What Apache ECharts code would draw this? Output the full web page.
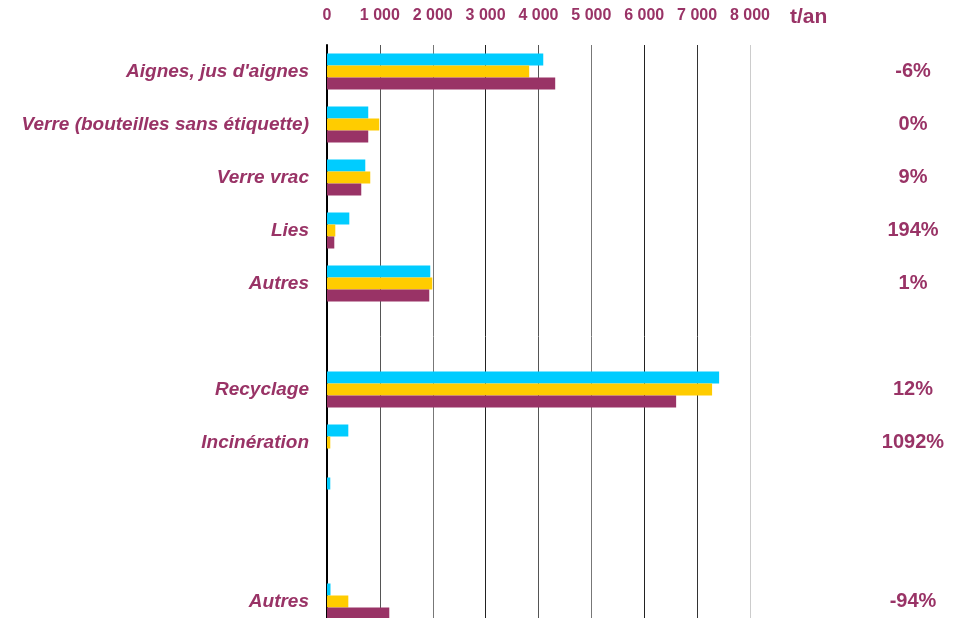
<!DOCTYPE html>
<html>
<head>
<meta charset="utf-8">
<script src="https://cdn.jsdelivr.net/npm/echarts@6/dist/echarts.min.js"></script>
<style>
  html, body { margin: 0; padding: 0; background: #fff; overflow: hidden; }
  /* the original picture is cut at the bottom, the last row runs off the page */
  #main { width: 955px; height: 640px; }
</style>
</head>
<body>
<div id="main"></div>
<script>
// categories, top to bottom (blank rows are gaps in the original chart)
const categories = ["Aignes, jus d'aignes", 'Verre (bouteilles sans étiquette)', 'Verre vrac', 'Lies', 'Autres', '', 'Recyclage', 'Incinération', '', '', 'Autres'];
// t/an, three series per row : cyan, yellow, maroon
const cyanVals   = [4090, 780, 724, 422, 1953, null, 7416, 403, 62, null, 66];
const yellowVals = [3824, 988, 818, 157, 1991, null, 7283, 62, null, null, 403];
const maroonVals = [4316, 780, 648, 138, 1934, null, 6603, null, null, null, 1178];
const evolution  = ['-6%', '0%', '9%', '194%', '1%', '', '12%', '1092%', '', '', '-94%'];
const xTicks = [0, 1000, 2000, 3000, 4000, 5000, 6000, 7000, 8000];

const PURPLE = '#993366';
const chart = echarts.init(document.getElementById('main'));

function fmt(v) {
  return String(v).replace(/\B(?=(\d{3})+(?!\d))/g, ' ');
}

function mkBar(name, vals, color) {
  return {
    name: name,
    type: 'bar',
    data: vals,
    barWidth: 12,
    barGap: '0%',
    itemStyle: { color: color },
    silent: true
  };
}

const option = {
  animation: false,
  title: {
    text: 't/an',
    left: 785,
    top: 2,
    textStyle: { color: PURPLE, fontFamily: 'Liberation Sans', fontWeight: 'bold', fontSize: 21 }
  },
  grid: { left: 327, right: 205, top: 45, height: 583 },
  xAxis: {
    type: 'value',
    position: 'top',
    min: 0,
    max: xTicks[xTicks.length - 1],
    interval: 1000,
    axisLine: { show: false },
    axisTick: { show: false },
    axisLabel: {
      margin: 21,
      color: PURPLE,
      fontFamily: 'Liberation Sans',
      fontWeight: 'bold',
      fontSize: 16,
      formatter: function (v) { return fmt(v); }
    },
    splitLine: {
      lineStyle: {
        width: 1,
        color: ['#000', '#555', '#777', '#222', '#555', '#777', '#222', '#333', '#ccc']
      }
    }
  },
  yAxis: [{
    type: 'category',
    inverse: true,
    data: categories,
    axisLine: { show: true, lineStyle: { color: '#000', width: 2 } },
    axisTick: { show: false },
    axisLabel: {
      margin: 18,
      color: PURPLE,
      fontFamily: 'Liberation Sans',
      fontWeight: 'bold',
      fontStyle: 'italic',
      fontSize: 19
    }
  }, {
    type: 'category',
    inverse: true,
    position: 'right',
    data: categories,
    axisLine: { show: false },
    axisTick: { show: false },
    axisLabel: {
      margin: 163,
      align: 'center',
      color: PURPLE,
      fontFamily: 'Liberation Sans',
      fontWeight: 'bold',
      fontSize: 20,
      formatter: function (v, i) { return evolution[i]; }
    }
  }],
  series: [
    mkBar('cyan', cyanVals, '#00CCFF'),
    mkBar('jaune', yellowVals, '#FFCC00'),
    mkBar('violet', maroonVals, PURPLE)
  ]
};

chart.setOption(option);
</script>
</body>
</html>
